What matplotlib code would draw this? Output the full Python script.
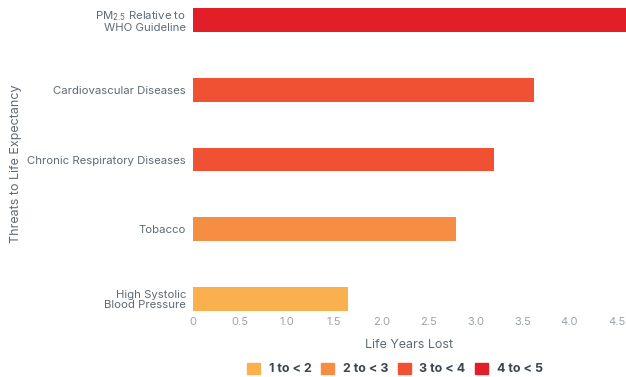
import matplotlib.pyplot as plt
from matplotlib.patches import Patch

# Data
threats = ["High Systolic\nBlood Pressure", "Tobacco", "Chronic Respiratory Diseases",
           "Cardiovascular Diseases", "PM$_{2.5}$ Relative to\nWHO Guideline"]
years_lost = [1.65, 2.79, 3.20, 3.62, 4.6]
bar_colors = ["#FBB04F", "#F58D42", "#F05133", "#F05133", "#E21F28"]

legend_labels = ["1 to < 2", "2 to < 3", "3 to < 4", "4 to < 5"]
legend_colors = ["#FBB04F", "#F58D42", "#F05133", "#E21F28"]

plt.rcParams['font.family'] = ['Inter', 'DejaVu Sans']
plt.rcParams['mathtext.default'] = 'regular'

text_gray = "#5E6B75"

fig = plt.figure(figsize=(6.26, 3.77), dpi=100)
ax = fig.add_axes([193 / 626, 66 / 377, 1 - 193 / 626, 303 / 377])

ax.barh(range(len(threats)), years_lost, height=0.34, color=bar_colors)
ax.set_yticks(range(len(threats)))
ax.set_yticklabels(threats, fontsize=8.2, color=text_gray, linespacing=1.0)
ax.set_xlim(0, 4.6)
ax.set_ylim(-0.17, 4.17)
ax.set_xticks([0, 0.5, 1, 1.5, 2, 2.5, 3, 3.5, 4, 4.5])
ax.set_xticklabels(["0", "0.5", "1.0", "1.5", "2.0", "2.5", "3.0", "3.5", "4.0", "4.5"],
                   fontsize=8, color="#9AA3AA")
ax.tick_params(length=0, axis='y', pad=5)
ax.tick_params(length=0, axis='x', pad=4)
for s in ax.spines.values():
    s.set_visible(False)

ax.set_xlabel("Life Years Lost", fontsize=9, color=text_gray, labelpad=9)
ax.set_ylabel("Threats to Life Expectancy", fontsize=9, color=text_gray)
ax.yaxis.set_label_coords(-0.395, 0.485)

handles = [Patch(color=c, label=l) for c, l in zip(legend_colors, legend_labels)]
leg = fig.legend(handles=handles, loc='center', bbox_to_anchor=(395 / 626, 8 / 377),
                 ncol=4, frameon=False, handlelength=1.0, handleheight=1.0,
                 handletextpad=0.7, columnspacing=0.8,
                 prop={'size': 9, 'weight': 'bold'})
for t in leg.get_texts():
    t.set_color("#3C4650")

fig.savefig("out.png", dpi=100)
